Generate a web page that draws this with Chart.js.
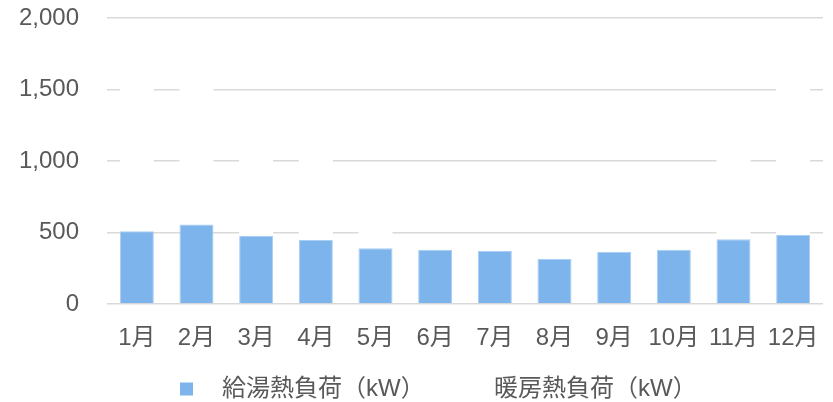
<!DOCTYPE html>
<html lang="ja">
<head>
<meta charset="utf-8">
<script src="https://cdn.jsdelivr.net/npm/chart.js@4/dist/chart.umd.min.js"></script>
<style>
    html, body { margin: 0; padding: 0; background: #ffffff; }
    #wrap { width: 833px; height: 402px; }
</style>
</head>
<body>
<div id="wrap"><canvas id="loadChart" width="833" height="402"></canvas></div>
<script>
// 月別熱負荷
const months = ['1月', '2月', '3月', '4月', '5月', '6月', '7月', '8月', '9月', '10月', '11月', '12月'];
const hotWaterLoad = [508, 556, 476, 448, 390, 380, 370, 314, 366, 380, 453, 483];
const heatingLoad = [1100, 1050, 700, 600, 200, 0, 0, 0, 0, 50, 700, 1100];
const yTicks = [0, 500, 1000, 1500, 2000];

const fontFamily = '"Liberation Sans", Arial, "Noto Sans CJK JP", sans-serif';
const textColor = '#595959';

// legend drawn by hand (Excel-like spacing)
const legendPlugin = {
    id: 'excelLegend',
    afterDraw(chart) {
        const ctx = chart.ctx;
        const xs = [180, 452];
        const y = 389;
        ctx.save();
        ctx.font = '24px ' + fontFamily;
        ctx.textBaseline = 'middle';
        chart.data.datasets.forEach((ds, i) => {
            ctx.fillStyle = ds.backgroundColor;
            ctx.fillRect(xs[i], y - 6.5, 13, 13);
            ctx.fillStyle = textColor;
            ctx.fillText(ds.label, xs[i] + 42, y);
        });
        ctx.restore();
    }
};

const canvas = document.getElementById('loadChart');
new Chart(canvas, {
    type: 'bar',
    data: {
        labels: months,
        datasets: [{
            label: '給湯熱負荷（kW）',
            data: hotWaterLoad,
            backgroundColor: '#7db4ec',
            borderColor: '#a9cdf3',
            borderWidth: 1,
            barPercentage: 0.57,
            categoryPercentage: 1
        }, {
            label: '暖房熱負荷（kW）',
            data: heatingLoad,
            backgroundColor: '#ffffff',
            borderWidth: 0,
            barPercentage: 0.57,
            categoryPercentage: 1
        }]
    },
    options: {
        responsive: false,
        animation: false,
        layout: { padding: { top: 18, right: 10, bottom: 50, left: 0 } },
        scales: {
            x: {
                stacked: true,
                grid: { display: false, drawTicks: true, tickLength: 20 },
                border: { display: false },
                ticks: { color: textColor, padding: 0, font: { family: fontFamily, size: 24 }, maxRotation: 0 },
                afterFit: scale => { scale.height = 48; }
            },
            y: {
                stacked: true,
                min: 0,
                max: 2000,
                afterBuildTicks: scale => { scale.ticks = yTicks.map(v => ({ value: v })); },
                grid: { color: '#d9d9d9', lineWidth: 1.5, drawTicks: true, tickLength: 28, tickColor: 'rgba(0,0,0,0)' },
                border: { display: false },
                ticks: {
                    color: textColor,
                    padding: 0,
                    font: { family: fontFamily, size: 24 },
                    callback: v => v.toLocaleString('en-US')
                },
                afterFit: scale => { scale.width = 107; }
            }
        },
        plugins: {
            legend: { display: false },
            tooltip: { enabled: false }
        }
    },
    plugins: [legendPlugin]
});
</script>
</body>
</html>
